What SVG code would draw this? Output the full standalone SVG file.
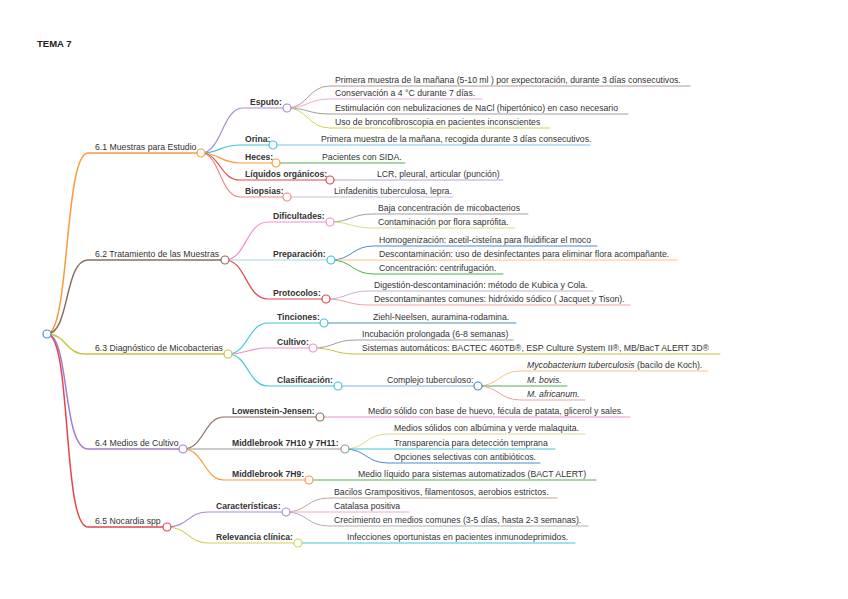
<svg xmlns="http://www.w3.org/2000/svg" width="848" height="599" viewBox="0 0 848 599">
<style>
text{font-family:"Liberation Sans",Arial,sans-serif;font-size:8.7px;fill:#333}
.t{font-weight:bold;font-size:9.5px;fill:#222}
.b{font-weight:bold;font-size:8.6px;fill:#333}
.i{font-style:italic}
path{fill:none;stroke-linecap:round}
.l1{stroke-width:1.5}
.l2{stroke-width:1.2}
.l3{stroke-width:1}
circle{fill:#fff;stroke-width:1.2}
</style>
<rect width="848" height="599" fill="#fff"/>
<text class="t" x="37" y="47">TEMA 7</text>
<g id="connectors">
<path class="l1" stroke="#f89b3c" d="M47,334 C70,334 64,153 88,153 H201"/>
<path class="l1" stroke="#8c6d62" d="M47,334 C70,334 64,260 88,260 H225"/>
<path class="l1" stroke="#c5c53a" d="M47,334 C66,334 66,354 85,354 H228"/>
<path class="l1" stroke="#a27fd0" d="M47,334 C70,334 62,449 88,449 H183"/>
<path class="l1" stroke="#e0474c" d="M47,334 C72,334 62,527 88,527 H167"/>
<path class="l2" stroke="#a98bd3" d="M201,153 C222,153 222,108 243,108 H287"/>
<path class="l2" stroke="#3fc6d9" d="M201,153 C220,153 220,145 240,145 H273"/>
<path class="l2" stroke="#f89b3c" d="M201,153 C220,153 220,163 240,163 H276"/>
<path class="l2" stroke="#e0474c" d="M201,153 C220,153 220,180 240,180 H330"/>
<path class="l2" stroke="#f08a8a" d="M201,153 C220,153 220,197 240,197 H287"/>
<path class="l2" stroke="#ee90d0" d="M225,260 C246,260 246,222 268,222 H330"/>
<path class="l2" stroke="#9edae5" d="M225,260 H331"/>
<path class="l2" stroke="#e0474c" d="M225,260 C246,260 246,299 268,299 H326"/>
<path class="l2" stroke="#3fc6d9" d="M228,354 C248,354 248,323 268,323 H324"/>
<path class="l2" stroke="#ee90d0" d="M228,354 C248,354 248,348 268,348 H313"/>
<path class="l2" stroke="#3fc6d9" d="M228,354 C248,354 248,386 268,386 H338"/>
<path class="l2" stroke="#7fb6e0" d="M338,386 H478"/>
<path class="l2" stroke="#8c6d62" d="M183,449 C204,449 204,417 224,417 H320"/>
<path class="l2" stroke="#9a9a9a" d="M183,449 H345"/>
<path class="l2" stroke="#f89b3c" d="M183,449 C204,449 204,480 224,480 H309"/>
<path class="l2" stroke="#a98bd3" d="M167,527 C188,527 188,512 208,512 H286"/>
<path class="l2" stroke="#d2d25a" d="M167,527 C188,527 188,543 208,543 H298"/>
<path class="l3" stroke="#b39a94" d="M287,108 C308,108 308,86 330,86 H690"/>
<path class="l3" stroke="#f4a6d7" d="M287,108 C308,108 308,99 330,99 H482"/>
<path class="l3" stroke="#a0a0a0" d="M287,108 C308,108 308,114 330,114 H628"/>
<path class="l3" stroke="#d2d25a" d="M287,108 C308,108 308,128 330,128 H550"/>
<path class="l3" stroke="#7fc4e8" d="M273,145 H590"/>
<path class="l3" stroke="#4caf50" d="M276,163 H405"/>
<path class="l3" stroke="#b9a2d8" d="M330,180 H503"/>
<path class="l3" stroke="#cdbde0" d="M287,197 H453"/>
<path class="l3" stroke="#a0a0a0" d="M330,222 C351,222 351,214 373,214 H528"/>
<path class="l3" stroke="#dcdc8d" d="M330,222 C351,222 351,228 373,228 H515"/>
<path class="l3" stroke="#4b8bc8" d="M331,260 C352,260 352,246 374,246 H597"/>
<path class="l3" stroke="#ffc080" d="M331,260 H677"/>
<path class="l3" stroke="#4caf50" d="M331,260 C352,260 352,274 374,274 H503"/>
<path class="l3" stroke="#c5b0d5" d="M326,299 C347,299 347,291 369,291 H593"/>
<path class="l3" stroke="#eea0a0" d="M326,299 C347,299 347,305 369,305 H630"/>
<path class="l3" stroke="#4b8bc8" d="M324,323 H516"/>
<path class="l3" stroke="#a0a0a0" d="M313,348 C334,348 334,340 356,340 H513"/>
<path class="l3" stroke="#c5c53a" d="M313,348 C334,348 334,354 356,354 H720"/>
<path class="l3" stroke="#ffc080" d="M478,386 C499,386 499,371 521,371 H708"/>
<path class="l3" stroke="#4caf50" d="M478,386 H567"/>
<path class="l3" stroke="#eea0a0" d="M478,386 C499,386 499,400 521,400 H585"/>
<path class="l3" stroke="#ee90d0" d="M320,417 H630"/>
<path class="l3" stroke="#dcdc8d" d="M345,449 C366,449 366,434 388,434 H585"/>
<path class="l3" stroke="#3fc6d9" d="M345,449 H555"/>
<path class="l3" stroke="#4b8bc8" d="M345,449 C366,449 366,463 388,463 H540"/>
<path class="l3" stroke="#4caf50" d="M309,480 H596"/>
<path class="l3" stroke="#c4a49c" d="M286,512 C307,512 307,498 329,498 H557"/>
<path class="l3" stroke="#f4a6d7" d="M286,512 H409"/>
<path class="l3" stroke="#b0b0b0" d="M286,512 C307,512 307,526 329,526 H588"/>
<path class="l3" stroke="#3fc6d9" d="M298,543 H575"/>
</g>
<g id="root"><circle cx="47" cy="334" r="4" stroke="#4b8bc8"/></g>
<g id="n61"><text x="95" y="150">6.1 Muestras para Estudio</text><circle cx="201" cy="153" r="4" stroke="#f89b3c"/></g>
<g id="n62"><text x="95" y="257">6.2 Tratamiento de las Muestras</text><circle cx="225" cy="260" r="4" stroke="#8c6d62"/></g>
<g id="n63"><text x="95" y="351">6.3 Diagnóstico de Micobacterias</text><circle cx="228" cy="354" r="4" stroke="#c5c53a"/></g>
<g id="n64"><text x="95" y="446">6.4 Medios de Cultivo</text><circle cx="183" cy="449" r="4" stroke="#a27fd0"/></g>
<g id="n65"><text x="95" y="524">6.5 Nocardia spp</text><circle cx="167" cy="527" r="4" stroke="#e0474c"/></g>
<g id="esputo"><text class="b" x="250" y="105">Esputo:</text><circle cx="287" cy="108" r="4" stroke="#a98bd3"/></g>
<g id="orina"><text class="b" x="245" y="142">Orina:</text><circle cx="273" cy="145" r="4" stroke="#3fc6d9"/></g>
<g id="heces"><text class="b" x="245" y="160">Heces:</text><circle cx="276" cy="163" r="4" stroke="#f89b3c"/></g>
<g id="liquidos"><text class="b" x="245" y="177">Líquidos orgánicos:</text><circle cx="330" cy="180" r="4" stroke="#e0474c"/></g>
<g id="biopsias"><text class="b" x="245" y="194">Biopsias:</text><circle cx="287" cy="197" r="4" stroke="#f08a8a"/></g>
<g id="dificultades"><text class="b" x="273" y="219">Dificultades:</text><circle cx="330" cy="222" r="4" stroke="#ee90d0"/></g>
<g id="preparacion"><text class="b" x="273" y="257">Preparación:</text><circle cx="331" cy="260" r="4" stroke="#3fc6d9"/></g>
<g id="protocolos"><text class="b" x="273" y="296">Protocolos:</text><circle cx="326" cy="299" r="4" stroke="#e0474c"/></g>
<g id="tinciones"><text class="b" x="277" y="320">Tinciones:</text><circle cx="324" cy="323" r="4" stroke="#3fc6d9"/></g>
<g id="cultivo"><text class="b" x="277" y="345">Cultivo:</text><circle cx="313" cy="348" r="4" stroke="#ee90d0"/></g>
<g id="clasificacion"><text class="b" x="277" y="383">Clasificación:</text><circle cx="338" cy="386" r="4" stroke="#3fc6d9"/></g>
<g id="complejo"><text x="387" y="383">Complejo tuberculoso:</text><circle cx="478" cy="386" r="4" stroke="#4b8bc8"/></g>
<g id="lowenstein"><text class="b" x="232" y="414">Lowenstein-Jensen:</text><circle cx="320" cy="417" r="4" stroke="#8c6d62"/></g>
<g id="mb7h10"><text class="b" x="232" y="446">Middlebrook 7H10 y 7H11:</text><circle cx="345" cy="449" r="4" stroke="#9a9a9a"/></g>
<g id="mb7h9"><text class="b" x="232" y="477">Middlebrook 7H9:</text><circle cx="309" cy="480" r="4" stroke="#f89b3c"/></g>
<g id="caracteristicas"><text class="b" x="216" y="509">Características:</text><circle cx="286" cy="512" r="4" stroke="#a98bd3"/></g>
<g id="relevancia"><text class="b" x="216" y="540">Relevancia clínica:</text><circle cx="298" cy="543" r="4" stroke="#d2d25a"/></g>
<g id="leaves">
<text x="335" y="82.5">Primera muestra de la mañana (5-10 ml ) por expectoración, durante 3 días consecutivos.</text>
<text x="335" y="95.5">Conservación a 4 °C durante 7 días.</text>
<text x="335" y="110.5">Estimulación con nebulizaciones de NaCl (hipertónico) en caso necesario</text>
<text x="335" y="124.5">Uso de broncofibroscopia en pacientes inconscientes</text>
<text x="321" y="141.5">Primera muestra de la mañana, recogida durante 3 días consecutivos.</text>
<text x="322" y="159.5">Pacientes con SIDA.</text>
<text x="377" y="176.5">LCR, pleural, articular (punción)</text>
<text x="334" y="193.5">Linfadenitis tuberculosa, lepra.</text>
<text x="378" y="210.5">Baja concentración de micobacterios</text>
<text x="378" y="224.5">Contaminación por flora saprófita.</text>
<text x="379" y="242.5">Homogenización: acetil-cisteína para fluidificar el moco</text>
<text x="379" y="256.5">Descontaminación: uso de desinfectantes para eliminar flora acompañante.</text>
<text x="379" y="270.5">Concentración: centrifugación.</text>
<text x="374" y="287.5">Digestión-descontaminación: método de Kubica y Cola.</text>
<text x="374" y="301.5">Descontaminantes comunes: hidróxido sódico ( Jacquet y Tison).</text>
<text x="373" y="319.5">Ziehl-Neelsen, auramina-rodamina.</text>
<text x="362" y="336.5">Incubación prolongada (6-8 semanas)</text>
<text x="362" y="350.5">Sistemas automáticos: BACTEC 460TB®, ESP Culture System II®, MB/BacT ALERT 3D®</text>
<text x="527" y="367.5"><tspan class="i">Mycobacterium tuberculosis</tspan> (bacilo de Koch).</text>
<text x="527" y="382.5" class="i">M. bovis.</text>
<text x="527" y="396.5" class="i">M. africanum.</text>
<text x="368" y="413.5">Medio sólido con base de huevo, fécula de patata, glicerol y sales.</text>
<text x="394" y="430.5">Medios sólidos con albúmina y verde malaquita.</text>
<text x="394" y="445.5">Transparencia para detección temprana</text>
<text x="394" y="459.5">Opciones selectivas con antibióticos.</text>
<text x="358" y="476.5">Medio líquido para sistemas automatizados (BACT ALERT)</text>
<text x="334" y="494.5">Bacilos Grampositivos, filamentosos, aerobios estrictos.</text>
<text x="334" y="508.5">Catalasa positiva</text>
<text x="334" y="522.5">Crecimiento en medios comunes (3-5 días, hasta 2-3 semanas).</text>
<text x="347" y="539.5">Infecciones oportunistas en pacientes inmunodeprimidos.</text>
</g>
</svg>
